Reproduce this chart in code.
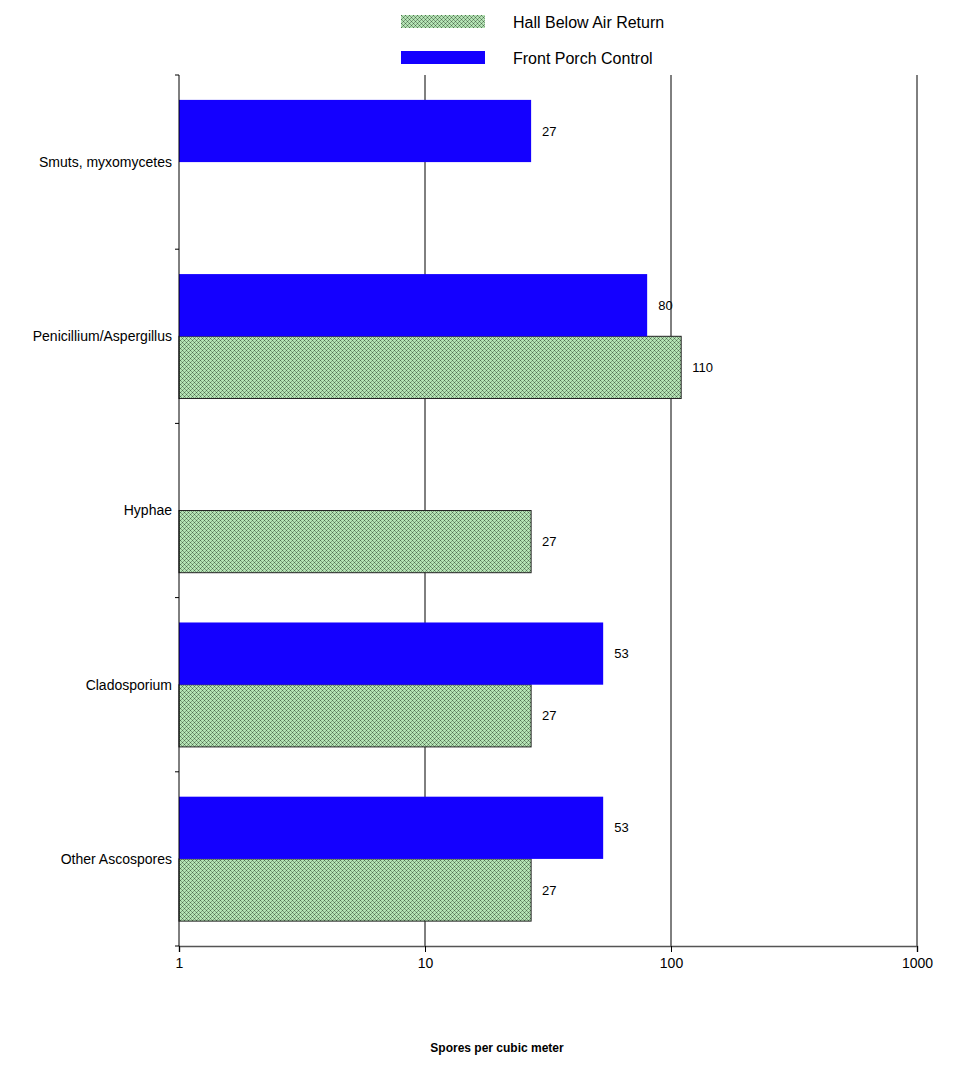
<!DOCTYPE html>
<html>
<head>
<meta charset="utf-8">
<script src="https://cdn.jsdelivr.net/npm/d3@7"></script>
<style>
  body { margin: 0; background: #fff; }
  text { font-family: "Liberation Sans", Arial, sans-serif; }
</style>
</head>
<body>
<script>
// chart data
const categories = ["Smuts, myxomycetes", "Penicillium/Aspergillus", "Hyphae", "Cladosporium", "Other Ascospores"];
const seriesNames = ["Front Porch Control", "Hall Below Air Return"];
const frontPorch = [27, 80, null, 53, 53];
const hallBelow = [null, 110, 27, 27, 27];
const xTicks = [1, 10, 100, 1000];

const width = 968;
const height = 1074;
const margin = { top: 75, right: 51, bottom: 128, left: 179 };

const svg = d3
  .select("body")
  .append("svg")
  .attr("width", width)
  .attr("height", height);

// hatch pattern for the hall series
const defs = svg.append("defs");
const pat = defs
  .append("pattern")
  .attr("id", "hatch")
  .attr("patternUnits", "userSpaceOnUse")
  .attr("width", 4)
  .attr("height", 4);
pat.append("rect").attr("width", 4).attr("height", 4).attr("fill", "#b4e4b4");
pat.append("rect").attr("x", 0).attr("y", 0).attr("width", 1).attr("height", 1).attr("fill", "#4f6f4f");
pat.append("rect").attr("x", 2).attr("y", 2).attr("width", 1).attr("height", 1).attr("fill", "#4f6f4f");
pat.append("rect").attr("x", 1).attr("y", 1).attr("width", 1).attr("height", 1).attr("fill", "#7f9f7f");
pat.append("rect").attr("x", 3).attr("y", 3).attr("width", 1).attr("height", 1).attr("fill", "#7f9f7f");
pat.append("rect").attr("x", 3).attr("y", 1).attr("width", 1).attr("height", 1).attr("fill", "#7f9f7f");
pat.append("rect").attr("x", 1).attr("y", 3).attr("width", 1).attr("height", 1).attr("fill", "#7f9f7f");

const x = d3
  .scaleLog()
  .domain([1, 1000])
  .range([margin.left, width - margin.right]);

const y = d3
  .scaleBand()
  .domain(categories)
  .range([margin.top, height - margin.bottom]);

const sub = d3
  .scaleBand()
  .domain(seriesNames)
  .range([0, y.bandwidth()])
  .paddingOuter(0.4);

// vertical gridlines
svg
  .append("g")
  .selectAll("line")
  .data(xTicks.slice(1))
  .enter()
  .append("line")
  .attr("x1", (d) => x(d))
  .attr("x2", (d) => x(d))
  .attr("y1", margin.top)
  .attr("y2", height - margin.bottom)
  .attr("stroke", "#000")
  .attr("stroke-width", 1);

const rows = categories.map((c, i) => ({ cat: c, front: frontPorch[i], hall: hallBelow[i] }));

// hall bars (hatched)
svg
  .append("g")
  .selectAll("rect")
  .data(rows.filter((d) => d.hall != null))
  .enter()
  .append("rect")
  .attr("x", x(1))
  .attr("y", (d) => y(d.cat) + sub("Hall Below Air Return"))
  .attr("width", (d) => x(d.hall) - x(1))
  .attr("height", sub.bandwidth())
  .attr("fill", "url(#hatch)")
  .attr("stroke", "#222")
  .attr("stroke-width", 1);

// front porch bars
svg
  .append("g")
  .selectAll("rect")
  .data(rows.filter((d) => d.front != null))
  .enter()
  .append("rect")
  .attr("x", x(1))
  .attr("y", (d) => y(d.cat) + sub("Front Porch Control"))
  .attr("width", (d) => x(d.front) - x(1))
  .attr("height", sub.bandwidth())
  .attr("fill", "#1400ff");

// value labels
const labels = [];
rows.forEach((d) => {
  if (d.front != null) labels.push({ cat: d.cat, s: "Front Porch Control", v: d.front });
  if (d.hall != null) labels.push({ cat: d.cat, s: "Hall Below Air Return", v: d.hall });
});
svg
  .append("g")
  .selectAll("text")
  .data(labels)
  .enter()
  .append("text")
  .attr("x", (d) => x(d.v) + 11)
  .attr("y", (d) => y(d.cat) + sub(d.s) + sub.bandwidth() / 2)
  .attr("dy", "0.35em")
  .attr("font-size", 13)
  .attr("fill", "#000")
  .text((d) => d.v);

// x axis
const xAxis = svg
  .append("g")
  .attr("transform", `translate(0,${height - margin.bottom})`)
  .call(
    d3
      .axisBottom(x)
      .tickValues(xTicks)
      .tickFormat(d3.format("d"))
      .tickSize(6)
      .tickPadding(6)
  );
xAxis.select(".domain").attr("stroke", "#555").attr("stroke-width", 1.5);
xAxis.selectAll(".tick line").attr("stroke", "#000");
xAxis.selectAll("text").attr("font-size", 14).attr("fill", "#000").attr("font-family", "Liberation Sans, Arial, sans-serif");

// y axis (ticks on band boundaries)
const yBounds = categories.map((c) => y(c)).concat([height - margin.bottom]);
const yAxis = svg.append("g");
yAxis
  .append("line")
  .attr("x1", margin.left)
  .attr("x2", margin.left)
  .attr("y1", margin.top)
  .attr("y2", height - margin.bottom)
  .attr("stroke", "#000");
yAxis
  .selectAll("line.tk")
  .data(yBounds)
  .enter()
  .append("line")
  .attr("class", "tk")
  .attr("x1", margin.left - 4)
  .attr("x2", margin.left)
  .attr("y1", (d) => d)
  .attr("y2", (d) => d)
  .attr("stroke", "#000");
yAxis
  .selectAll("text")
  .data(categories)
  .enter()
  .append("text")
  .attr("x", margin.left - 7)
  .attr("y", (d) => y(d) + y.bandwidth() / 2)
  .attr("dy", "0.35em")
  .attr("text-anchor", "end")
  .attr("font-size", 14)
  .attr("fill", "#000")
  .text((d) => d);

// axis title
svg
  .append("text")
  .attr("x", 497)
  .attr("y", 1052)
  .attr("text-anchor", "middle")
  .attr("font-size", 12)
  .attr("font-weight", "bold")
  .text("Spores per cubic meter");

// legend
const legendItems = [
  { name: "Hall Below Air Return", fill: "url(#hatch)" },
  { name: "Front Porch Control", fill: "#1400ff" },
];
const legend = svg
  .append("g")
  .selectAll("g")
  .data(legendItems)
  .enter()
  .append("g")
  .attr("transform", (d, i) => `translate(401, ${15 + i * 36})`);
legend
  .append("rect")
  .attr("width", 84)
  .attr("height", 13)
  .attr("fill", (d) => d.fill);
legend
  .append("text")
  .attr("x", 112)
  .attr("y", 7)
  .attr("dy", "0.35em")
  .attr("font-size", 16)
  .attr("fill", "#000")
  .text((d) => d.name);
</script>
</body>
</html>
